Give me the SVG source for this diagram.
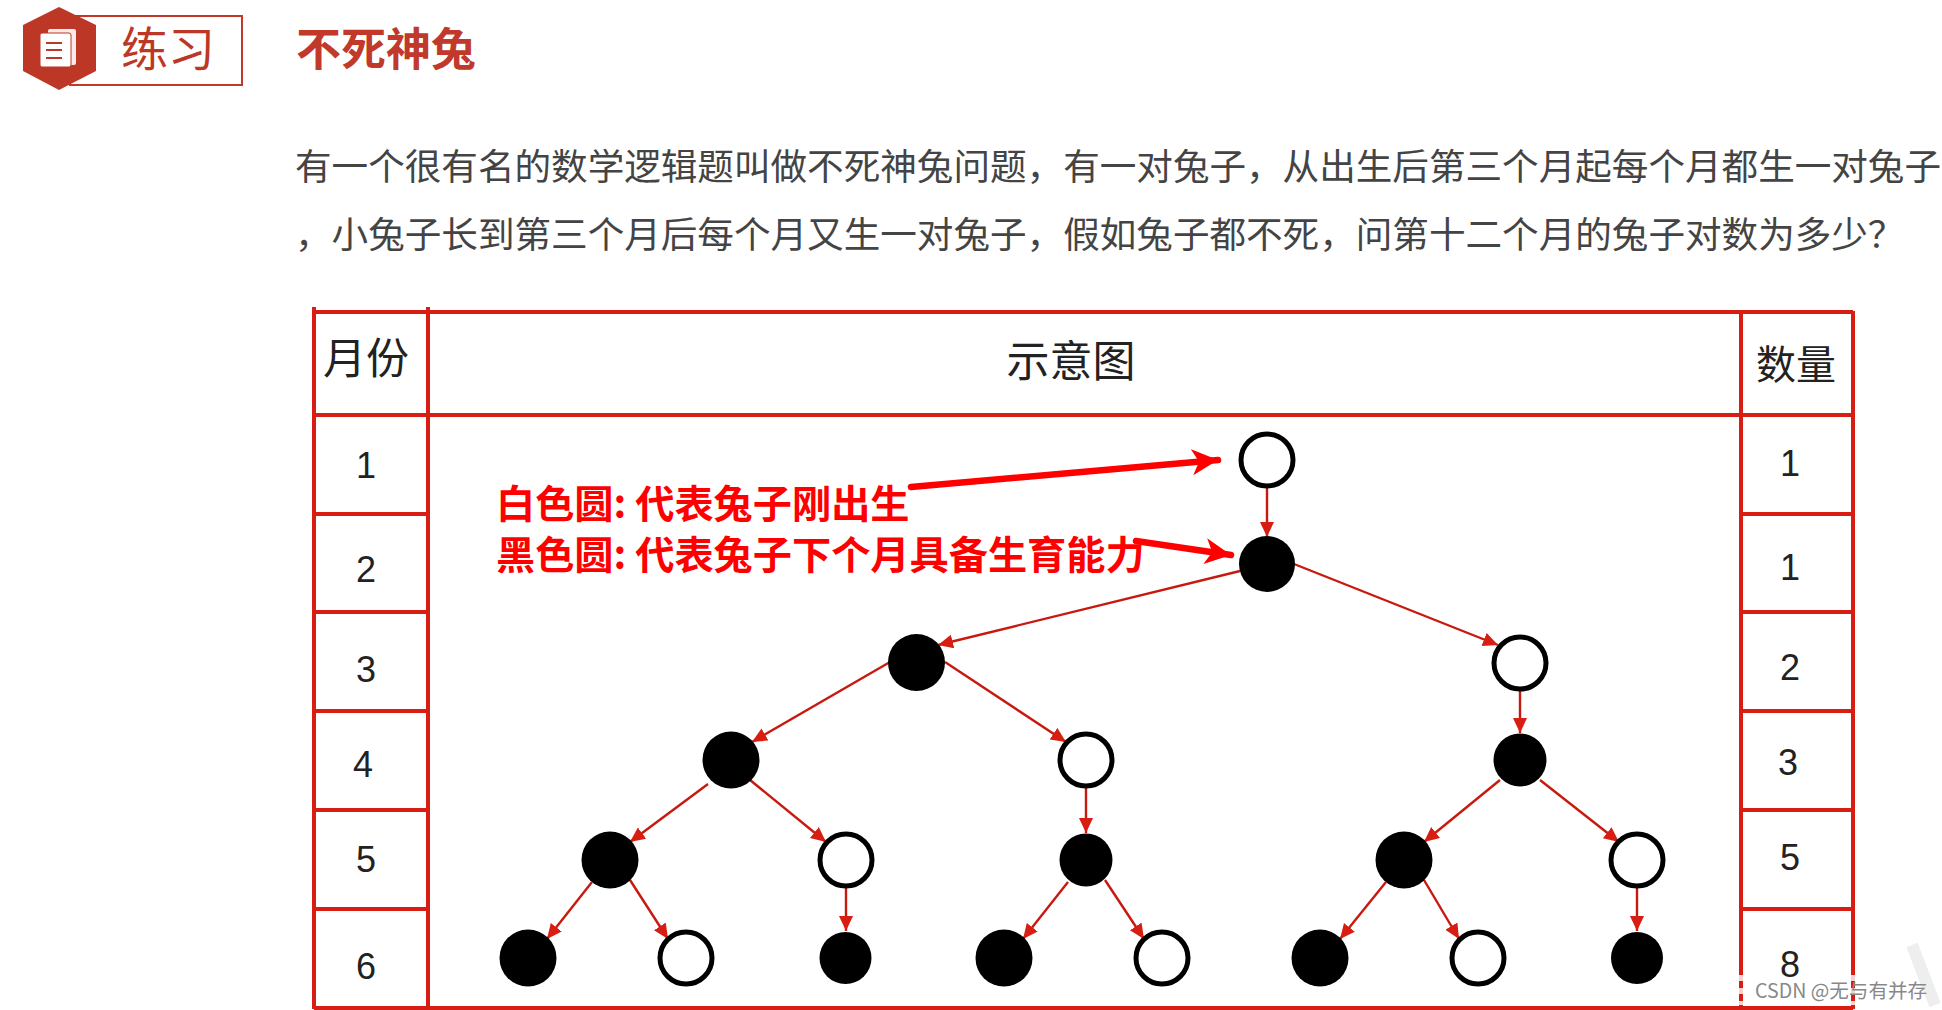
<svg xmlns="http://www.w3.org/2000/svg" width="1942" height="1010" viewBox="0 0 1942 1010">
<style>
text{font-family:"Noto Sans CJK SC","Liberation Sans",sans-serif}
.body{font-size:36.6px;fill:#444}
.cell{fill:#222;text-anchor:middle}
.num{font-family:"Liberation Sans",sans-serif;font-size:36px;fill:#222;text-anchor:middle}
.grid{stroke:#d81e12;stroke-width:4;fill:none}
.edge{stroke:#c8190f;stroke-width:2.4;fill:none;marker-end:url(#a)}
.w{fill:#fff;stroke:#000;stroke-width:5}
.b{fill:#000}
.note{font-size:39.2px;font-weight:700;fill:#f00}
.big{stroke:#f00;stroke-width:6.5;stroke-linecap:round;fill:none;marker-end:url(#b)}
</style>
<defs>
<marker id="a" markerUnits="userSpaceOnUse" markerWidth="16" markerHeight="16" refX="15" refY="7" orient="auto"><path d="M0 0L15 7L0 14z" fill="#d81e12"/></marker>
<marker id="b" markerUnits="userSpaceOnUse" markerWidth="28" markerHeight="28" refX="26" refY="13" orient="auto"><path d="M0 0L26 13L0 26L7 13z" fill="#f00"/></marker>
</defs>
<rect width="1942" height="1010" fill="#fff"/>
<g id="badge">
<rect x="70" y="16" width="172" height="69" fill="#fff" stroke="#c0392b" stroke-width="2"/>
<path d="M59 7L96 25V71L59 90L23 71V25z" fill="#bd3726"/>
<rect x="48" y="29" width="28" height="36" rx="2" fill="#fff" opacity=".9"/>
<rect x="40" y="33" width="31" height="34" rx="2" fill="#fff" stroke="#bd3726"/>
<path d="M46 43H62M46 50H62M46 58H62" stroke="#bd3726" stroke-width="2"/>
<text x="121" y="66" font-size="47" fill="#bd3726">练习</text>
</g>
<text id="title" x="296" y="66" font-size="45" font-weight="700" fill="#c0392b">不死神兔</text>
<text class="body" x="295" y="180">有一个很有名的数学逻辑题叫做不死神兔问题，有一对兔子，从出生后第三个月起每个月都生一对兔子</text>
<text class="body" x="295" y="248">，小兔子长到第三个月后每个月又生一对兔子，假如兔子都不死，问第十二个月的兔子对数为多少？</text>
<g id="table">
<path class="grid" d="M314 307V1009M428 307V1009M1741 311V1009M1853 311V1009M314 312H1853M314 415H428M1741 415H1853M314 514H428M1741 514H1853M314 612H428M1741 612H1853M314 711H428M1741 711H1853M314 810H428M1741 810H1853M314 909H428M1741 909H1853M428 415H1741M314 1008H1853"/>
<text class="cell" x="366" y="374" font-size="43">月份</text>
<text class="cell" x="1071" y="377" font-size="43">示意图</text>
<text class="cell" x="1796" y="379" font-size="40">数量</text>
<text class="num" x="366" y="478">1</text><text class="num" x="366" y="582">2</text><text class="num" x="366" y="682">3</text><text class="num" x="363" y="777">4</text><text class="num" x="366" y="872">5</text><text class="num" x="366" y="979">6</text>
<text class="num" x="1790" y="476">1</text><text class="num" x="1790" y="580">1</text><text class="num" x="1790" y="680">2</text><text class="num" x="1788" y="775">3</text><text class="num" x="1790" y="870">5</text><text class="num" x="1790" y="977">8</text>
</g>
<g id="connectors">
<path class="edge" d="M1267 488V537"/>
<path class="edge" d="M1240 571L938 645"/>
<path class="edge" d="M1294 564L1498 645"/>
<path class="edge" d="M890 662L752 742"/>
<path class="edge" d="M945 662L1066 742"/>
<path class="edge" d="M1520 690V733"/>
<path class="edge" d="M708 784L630 842"/>
<path class="edge" d="M750 780L826 842"/>
<path class="edge" d="M1086 787V833"/>
<path class="edge" d="M1500 780L1424 842"/>
<path class="edge" d="M1540 780L1619 842"/>
<path class="edge" d="M592 882L547 939"/>
<path class="edge" d="M630 880L668 939"/>
<path class="edge" d="M846 888V931"/>
<path class="edge" d="M1068 882L1023 939"/>
<path class="edge" d="M1105 880L1144 939"/>
<path class="edge" d="M1386 882L1340 939"/>
<path class="edge" d="M1424 880L1459 939"/>
<path class="edge" d="M1637 888V931"/>
</g>
<g id="n1"><circle class="w" cx="1267" cy="460" r="26"/></g>
<g id="n2"><circle class="b" cx="1267" cy="564" r="28"/></g>
<g id="n3"><circle class="b" cx="916.500" cy="662.500" r="28.500"/></g>
<g id="n4"><circle class="w" cx="1520" cy="663" r="26"/></g>
<g id="n5"><circle class="b" cx="731" cy="760" r="28.500"/></g>
<g id="n6"><circle class="w" cx="1086" cy="760" r="26"/></g>
<g id="n7"><circle class="b" cx="1520" cy="760" r="26.500"/></g>
<g id="n8"><circle class="b" cx="610" cy="860" r="28.500"/></g>
<g id="n9"><circle class="w" cx="846" cy="860" r="26"/></g>
<g id="n10"><circle class="b" cx="1086" cy="860" r="26.500"/></g>
<g id="n11"><circle class="b" cx="1404" cy="860" r="28.500"/></g>
<g id="n12"><circle class="w" cx="1637" cy="860" r="26"/></g>
<g id="n13"><circle class="b" cx="528" cy="958" r="28.500"/></g>
<g id="n14"><circle class="w" cx="686" cy="958" r="26"/></g>
<g id="n15"><circle class="b" cx="845.500" cy="958" r="26"/></g>
<g id="n16"><circle class="b" cx="1004" cy="958" r="28.500"/></g>
<g id="n17"><circle class="w" cx="1162" cy="958" r="26"/></g>
<g id="n18"><circle class="b" cx="1320" cy="958" r="28.500"/></g>
<g id="n19"><circle class="w" cx="1478" cy="958" r="26"/></g>
<g id="n20"><circle class="b" cx="1637" cy="958" r="26"/></g>
<g id="notes">
<text class="note" x="496" y="518">白色圆: 代表兔子刚出生</text>
<text class="note" x="496" y="569">黑色圆: 代表兔子下个月具备生育能力</text>
<path class="big" d="M911 487L1218 460"/>
<path class="big" d="M1136 541L1231 555"/>
</g>
<g id="watermark">
<path d="M1741 975V1005M1853 975V1005" stroke="#fff" stroke-width="5" stroke-dasharray="6 7" fill="none" opacity=".8"/>
<path d="M1912 945L1935 1005" stroke="#eee" stroke-width="12" fill="none"/>
<text x="1755" y="998" font-size="19.600" fill="#888" font-family="Liberation Sans,Noto Sans CJK SC,sans-serif">CSDN @无与有并存</text>
</g>
</svg>
